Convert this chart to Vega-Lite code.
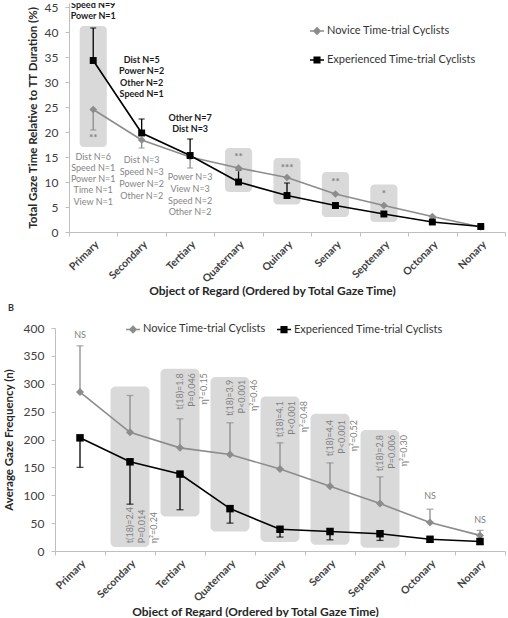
{
  "$schema": "https://vega.github.io/schema/vega-lite/v6.json",
  "background": "white",
  "padding": {"left": 3, "top": 0, "right": 0, "bottom": 0},
  "config": {
    "font": "Lato",
    "view": {"stroke": null},
    "axis": {
      "grid": false,
      "domainColor": "#bfbfbf",
      "tickColor": "#bfbfbf",
      "labelColor": "#404040",
      "titleColor": "#262626",
      "labelFont": "Lato",
      "titleFont": "Lato"
    },
    "axisY": {"labelOverlap": false, "tickCount": 10},
    "legend": {"labelFont": "Lato", "labelColor": "#333333"}
  },
  "datasets": {
    "timeA": [
      {"cat": "Primary", "series": "Novice Time-trial Cyclists", "value": 24.5, "err": 20.4},
      {"cat": "Secondary", "series": "Novice Time-trial Cyclists", "value": 18.4, "err": 16.8},
      {"cat": "Tertiary", "series": "Novice Time-trial Cyclists", "value": 15.0, "err": 12.8},
      {"cat": "Quaternary", "series": "Novice Time-trial Cyclists", "value": 12.8, "err": 12.8},
      {"cat": "Quinary", "series": "Novice Time-trial Cyclists", "value": 10.9, "err": 10.9},
      {"cat": "Senary", "series": "Novice Time-trial Cyclists", "value": 7.6, "err": 7.6},
      {"cat": "Septenary", "series": "Novice Time-trial Cyclists", "value": 5.3, "err": 5.3},
      {"cat": "Octonary", "series": "Novice Time-trial Cyclists", "value": 3.1, "err": 3.1},
      {"cat": "Nonary", "series": "Novice Time-trial Cyclists", "value": 1.0, "err": 1.0},
      {"cat": "Primary", "series": "Experienced Time-trial Cyclists", "value": 34.3, "err": 40.8},
      {"cat": "Secondary", "series": "Experienced Time-trial Cyclists", "value": 19.8, "err": 22.6},
      {"cat": "Tertiary", "series": "Experienced Time-trial Cyclists", "value": 15.3, "err": 18.6},
      {"cat": "Quaternary", "series": "Experienced Time-trial Cyclists", "value": 10.0, "err": 12.4},
      {"cat": "Quinary", "series": "Experienced Time-trial Cyclists", "value": 7.3, "err": 9.8},
      {"cat": "Senary", "series": "Experienced Time-trial Cyclists", "value": 5.3, "err": 5.3},
      {"cat": "Septenary", "series": "Experienced Time-trial Cyclists", "value": 3.6, "err": 3.6},
      {"cat": "Octonary", "series": "Experienced Time-trial Cyclists", "value": 2.0, "err": 2.0},
      {"cat": "Nonary", "series": "Experienced Time-trial Cyclists", "value": 1.1, "err": 1.1}
    ],
    "boxesA": [
      {"cat": "Primary", "top": 41.2, "bottom": 17.0},
      {"cat": "Quaternary", "top": 16.8, "bottom": 8.0},
      {"cat": "Quinary", "top": 14.8, "bottom": 5.5},
      {"cat": "Senary", "top": 12.0, "bottom": 3.0},
      {"cat": "Septenary", "top": 9.5, "bottom": 2.0}
    ],
    "starsA": [
      {"cat": "Primary", "y": 19.2, "text": "**"},
      {"cat": "Quaternary", "y": 15.4, "text": "**"},
      {"cat": "Quinary", "y": 13.2, "text": "***"},
      {"cat": "Senary", "y": 10.4, "text": "**"},
      {"cat": "Septenary", "y": 8.0, "text": "*"}
    ],
    "expertNotesA": [
      {"cat": "Primary", "y": 45.5, "text": "Speed N=9"},
      {"cat": "Primary", "y": 43.2, "text": "Power N=1"},
      {"cat": "Secondary", "y": 34.5, "text": "Dist N=5"},
      {"cat": "Secondary", "y": 32.3, "text": "Power N=2"},
      {"cat": "Secondary", "y": 29.9, "text": "Other N=2"},
      {"cat": "Secondary", "y": 27.7, "text": "Speed N=1"},
      {"cat": "Tertiary", "y": 22.8, "text": "Other N=7"},
      {"cat": "Tertiary", "y": 20.6, "text": "Dist N=3"}
    ],
    "noviceNotesA": [
      {"cat": "Primary", "y": 15.1, "text": "Dist N=6"},
      {"cat": "Primary", "y": 12.9, "text": "Speed N=1"},
      {"cat": "Primary", "y": 10.7, "text": "Power N=1"},
      {"cat": "Primary", "y": 8.4, "text": "Time N=1"},
      {"cat": "Primary", "y": 6.1, "text": "View N=1"},
      {"cat": "Secondary", "y": 14.5, "text": "Dist N=3"},
      {"cat": "Secondary", "y": 12.1, "text": "Speed N=3"},
      {"cat": "Secondary", "y": 9.7, "text": "Power N=2"},
      {"cat": "Secondary", "y": 7.3, "text": "Other N=2"},
      {"cat": "Tertiary", "y": 11.0, "text": "Power N=3"},
      {"cat": "Tertiary", "y": 8.7, "text": "View N=3"},
      {"cat": "Tertiary", "y": 6.3, "text": "Speed N=2"},
      {"cat": "Tertiary", "y": 4.1, "text": "Other N=2"}
    ],
    "freqB": [
      {"cat": "Primary", "series": "Novice Time-trial Cyclists", "value": 285, "err": 368},
      {"cat": "Secondary", "series": "Novice Time-trial Cyclists", "value": 213, "err": 279},
      {"cat": "Tertiary", "series": "Novice Time-trial Cyclists", "value": 185, "err": 237},
      {"cat": "Quaternary", "series": "Novice Time-trial Cyclists", "value": 173, "err": 230},
      {"cat": "Quinary", "series": "Novice Time-trial Cyclists", "value": 147, "err": 194},
      {"cat": "Senary", "series": "Novice Time-trial Cyclists", "value": 116, "err": 158},
      {"cat": "Septenary", "series": "Novice Time-trial Cyclists", "value": 85, "err": 133},
      {"cat": "Octonary", "series": "Novice Time-trial Cyclists", "value": 51, "err": 75},
      {"cat": "Nonary", "series": "Novice Time-trial Cyclists", "value": 28, "err": 37},
      {"cat": "Primary", "series": "Experienced Time-trial Cyclists", "value": 203, "err": 150},
      {"cat": "Secondary", "series": "Experienced Time-trial Cyclists", "value": 160, "err": 84},
      {"cat": "Tertiary", "series": "Experienced Time-trial Cyclists", "value": 138, "err": 74},
      {"cat": "Quaternary", "series": "Experienced Time-trial Cyclists", "value": 76, "err": 50},
      {"cat": "Quinary", "series": "Experienced Time-trial Cyclists", "value": 39, "err": 25},
      {"cat": "Senary", "series": "Experienced Time-trial Cyclists", "value": 35, "err": 20},
      {"cat": "Septenary", "series": "Experienced Time-trial Cyclists", "value": 31, "err": 19},
      {"cat": "Octonary", "series": "Experienced Time-trial Cyclists", "value": 21, "err": 16},
      {"cat": "Nonary", "series": "Experienced Time-trial Cyclists", "value": 17, "err": 12}
    ],
    "boxesB": [
      {"cat": "Secondary", "top": 295, "bottom": 7},
      {"cat": "Tertiary", "top": 327, "bottom": 62},
      {"cat": "Quaternary", "top": 312, "bottom": 35},
      {"cat": "Quinary", "top": 277, "bottom": 16},
      {"cat": "Senary", "top": 246, "bottom": 11},
      {"cat": "Septenary", "top": 217, "bottom": 6}
    ],
    "statsB": [
      {"cat": "Secondary", "y": 14, "text": "t(18)=2.4\nP=0.014\nη²=0.24"},
      {"cat": "Tertiary", "y": 319, "text": "t(18)=1.8\nP=0.046\nη²=0.15"},
      {"cat": "Quaternary", "y": 307, "text": "t(18)=3.9\nP<0.001\nη²=0.46"},
      {"cat": "Quinary", "y": 269, "text": "t(18)=4.1\nP<0.001\nη²=0.48"},
      {"cat": "Senary", "y": 235, "text": "t(18)=4.4\nP<0.001\nη²=0.52"},
      {"cat": "Septenary", "y": 208, "text": "t(18)=2.8\nP=0.006\nη²=0.30"}
    ],
    "nsB": [
      {"cat": "Primary", "y": 388, "text": "NS"},
      {"cat": "Octonary", "y": 99, "text": "NS"},
      {"cat": "Nonary", "y": 56, "text": "NS"}
    ]
  },
  "vconcat": [
    {
      "width": 450,
      "height": 229,
      "layer": [
        {
          "data": {"name": "boxesA"},
          "mark": {"type": "bar", "width": {"band": 0.56}, "cornerRadius": 4, "color": "#d9d9d9"},
          "encoding": {
            "x": {
              "field": "cat", "type": "ordinal",
              "scale": {"domain": ["Primary", "Secondary", "Tertiary", "Quaternary", "Quinary", "Senary", "Septenary", "Octonary", "Nonary"], "rangeMin": 14, "paddingInner": 0, "paddingOuter": 0},
              "axis": {
                "title": "Object of Regard (Ordered by Total Gaze Time)",
                "titleFontSize": 12, "titleFontWeight": "bold", "titleX": 217, "titleY": 53,
                "labelAngle": -45, "labelFontSize": 10.5, "labelFontWeight": "bold",
                "tickBand": "extent", "tickSize": 4, "labelPadding": 3
              }
            },
            "y": {
              "field": "top", "type": "quantitative",
              "scale": {"domain": [0, 45.8], "nice": false},
              "axis": {
                "values": [0, 5, 10, 15, 20, 25, 30, 35, 40, 45],
                "tickCount": 10,
                "labelOverlap": false,
                "title": "Total Gaze Time Relative to TT Duration (%)",
                "titleFontSize": 11.5, "titleFontWeight": "bold", "titlePadding": 6,
                "labelFontSize": 12, "tickSize": 4, "labelPadding": 7, "offset": -14
              }
            },
            "y2": {"field": "bottom"}
          }
        },
        {
          "data": {"name": "timeA"},
          "mark": {"type": "line", "strokeWidth": 1.6},
          "encoding": {
            "x": {"field": "cat", "type": "ordinal"},
            "y": {"field": "value", "type": "quantitative"},
            "color": {
              "field": "series", "type": "nominal",
              "scale": {"domain": ["Novice Time-trial Cyclists", "Experienced Time-trial Cyclists"], "range": ["#8c8c8c", "#000000"]},
              "legend": {
                "title": null, "orient": "none", "legendX": 254, "legendY": 20, "direction": "vertical",
                "rowPadding": 14, "labelFontSize": 11, "labelOffset": 2, "symbolSize": 196,
                "encode": {"symbols": {"update": {
                  "shape": {"signal": "datum.value === 'Novice Time-trial Cyclists' ? 'M-1,0L1,0M0,-0.45L0.45,0L0,0.45L-0.45,0Z' : 'M-1,0L1,0M-0.4,-0.4L0.4,-0.4L0.4,0.4L-0.4,0.4Z'"},
                  "fill": {"signal": "datum.value === 'Novice Time-trial Cyclists' ? '#8c8c8c' : '#000000'"},
                  "stroke": {"signal": "datum.value === 'Novice Time-trial Cyclists' ? '#8c8c8c' : '#000000'"},
                  "strokeWidth": {"value": 1.5},
                  "opacity": {"value": 1}
                }}}
              }
            }
          }
        },
        {
          "data": {"name": "timeA"},
          "mark": {"type": "rule", "strokeWidth": 1.3},
          "encoding": {
            "x": {"field": "cat", "type": "ordinal"},
            "y": {"field": "value", "type": "quantitative"},
            "y2": {"field": "err"},
            "color": {"field": "series", "type": "nominal", "legend": null}
          }
        },
        {
          "data": {"name": "timeA"},
          "mark": {"type": "tick", "size": 6, "thickness": 1.3},
          "encoding": {
            "x": {"field": "cat", "type": "ordinal"},
            "y": {"field": "err", "type": "quantitative"},
            "color": {"field": "series", "type": "nominal", "legend": null}
          }
        },
        {
          "data": {"name": "timeA"},
          "transform": [{"filter": "datum.series === 'Novice Time-trial Cyclists'"}],
          "mark": {"type": "point", "shape": "diamond", "filled": true, "opacity": 1, "size": 60, "color": "#8c8c8c"},
          "encoding": {
            "x": {"field": "cat", "type": "ordinal"},
            "y": {"field": "value", "type": "quantitative"}
          }
        },
        {
          "data": {"name": "timeA"},
          "transform": [{"filter": "datum.series === 'Experienced Time-trial Cyclists'"}],
          "mark": {"type": "point", "shape": "square", "filled": true, "opacity": 1, "size": 48, "color": "#000000"},
          "encoding": {
            "x": {"field": "cat", "type": "ordinal"},
            "y": {"field": "value", "type": "quantitative"}
          }
        },
        {
          "data": {"name": "starsA"},
          "mark": {"type": "text", "fontSize": 10, "fontWeight": "bold", "color": "#7f7f7f", "dy": 2},
          "encoding": {
            "x": {"field": "cat", "type": "ordinal"},
            "y": {"field": "y", "type": "quantitative"},
            "text": {"field": "text"}
          }
        },
        {
          "data": {"name": "expertNotesA"},
          "mark": {"type": "text", "fontSize": 9, "fontWeight": "bold", "color": "#1a1a1a", "clip": true},
          "encoding": {
            "x": {"field": "cat", "type": "ordinal"},
            "y": {"field": "y", "type": "quantitative"},
            "text": {"field": "text"}
          }
        },
        {
          "data": {"name": "noviceNotesA"},
          "mark": {"type": "text", "fontSize": 9, "color": "#858585"},
          "encoding": {
            "x": {"field": "cat", "type": "ordinal"},
            "y": {"field": "y", "type": "quantitative"},
            "text": {"field": "text"}
          }
        }
      ]
    },
    {
      "width": 450,
      "height": 223,
      "title": {"text": "B", "anchor": "start", "frame": "bounds", "fontSize": 9, "fontWeight": "bold", "color": "#333333", "baseline": "alphabetic", "offset": 1, "dx": 5},
      "layer": [
        {
          "data": {"name": "boxesB"},
          "mark": {"type": "bar", "width": {"band": 0.78}, "cornerRadius": 5, "color": "#d9d9d9"},
          "encoding": {
            "x": {
              "field": "cat", "type": "ordinal",
              "scale": {"domain": ["Primary", "Secondary", "Tertiary", "Quaternary", "Quinary", "Senary", "Septenary", "Octonary", "Nonary"], "paddingInner": 0, "paddingOuter": 0},
              "axis": {
                "title": "Object of Regard (Ordered by Total Gaze Time)",
                "titleFontSize": 12, "titleFontWeight": "bold", "titleX": 200, "titleY": 55,
                "labelAngle": -45, "labelFontSize": 10.5, "labelFontWeight": "bold",
                "tickBand": "extent", "tickSize": 4, "labelPadding": 3
              }
            },
            "y": {
              "field": "top", "type": "quantitative",
              "scale": {"domain": [0, 400], "nice": false},
              "axis": {
                "values": [0, 50, 100, 150, 200, 250, 300, 350, 400],
                "tickCount": 10,
                "labelOverlap": false,
                "title": "Average Gaze Frequency (n)",
                "titleFontSize": 11.5, "titleFontWeight": "bold", "titlePadding": 9,
                "labelFontSize": 12, "tickSize": 4, "labelPadding": 7
              }
            },
            "y2": {"field": "bottom"}
          }
        },
        {
          "data": {"name": "freqB"},
          "mark": {"type": "line", "strokeWidth": 1.6},
          "encoding": {
            "x": {"field": "cat", "type": "ordinal"},
            "y": {"field": "value", "type": "quantitative"},
            "color": {
              "field": "series", "type": "nominal",
              "scale": {"domain": ["Novice Time-trial Cyclists", "Experienced Time-trial Cyclists"], "range": ["#8c8c8c", "#000000"]},
              "legend": {
                "title": null, "orient": "none", "legendX": 70, "legendY": -7, "direction": "horizontal",
                "columnPadding": 8, "labelFontSize": 11, "labelOffset": 2, "symbolSize": 196,
                "encode": {"symbols": {"update": {
                  "shape": {"signal": "datum.value === 'Novice Time-trial Cyclists' ? 'M-1,0L1,0M0,-0.45L0.45,0L0,0.45L-0.45,0Z' : 'M-1,0L1,0M-0.4,-0.4L0.4,-0.4L0.4,0.4L-0.4,0.4Z'"},
                  "fill": {"signal": "datum.value === 'Novice Time-trial Cyclists' ? '#8c8c8c' : '#000000'"},
                  "stroke": {"signal": "datum.value === 'Novice Time-trial Cyclists' ? '#8c8c8c' : '#000000'"},
                  "strokeWidth": {"value": 1.5},
                  "opacity": {"value": 1}
                }}}
              }
            }
          }
        },
        {
          "data": {"name": "freqB"},
          "mark": {"type": "rule", "strokeWidth": 1.3},
          "encoding": {
            "x": {"field": "cat", "type": "ordinal"},
            "y": {"field": "value", "type": "quantitative"},
            "y2": {"field": "err"},
            "color": {"field": "series", "type": "nominal", "legend": null}
          }
        },
        {
          "data": {"name": "freqB"},
          "mark": {"type": "tick", "size": 7, "thickness": 1.3},
          "encoding": {
            "x": {"field": "cat", "type": "ordinal"},
            "y": {"field": "err", "type": "quantitative"},
            "color": {"field": "series", "type": "nominal", "legend": null}
          }
        },
        {
          "data": {"name": "freqB"},
          "transform": [{"filter": "datum.series === 'Novice Time-trial Cyclists'"}],
          "mark": {"type": "point", "shape": "diamond", "filled": true, "opacity": 1, "size": 64, "color": "#8c8c8c"},
          "encoding": {
            "x": {"field": "cat", "type": "ordinal"},
            "y": {"field": "value", "type": "quantitative"}
          }
        },
        {
          "data": {"name": "freqB"},
          "transform": [{"filter": "datum.series === 'Experienced Time-trial Cyclists'"}],
          "mark": {"type": "point", "shape": "square", "filled": true, "opacity": 1, "size": 56, "color": "#000000"},
          "encoding": {
            "x": {"field": "cat", "type": "ordinal"},
            "y": {"field": "value", "type": "quantitative"}
          }
        },
        {
          "data": {"name": "statsB"},
          "transform": [{"filter": "datum.cat !== 'Secondary'"}],
          "mark": {"type": "text", "fontSize": 9, "color": "#7f7f7f", "angle": 270, "align": "right", "baseline": "middle", "lineBreak": "\n", "lineHeight": 12},
          "encoding": {
            "x": {"field": "cat", "type": "ordinal"},
            "y": {"field": "y", "type": "quantitative"},
            "text": {"field": "text"}
          }
        },
        {
          "data": {"name": "statsB"},
          "transform": [{"filter": "datum.cat === 'Secondary'"}],
          "mark": {"type": "text", "fontSize": 9, "color": "#7f7f7f", "angle": 270, "align": "left", "baseline": "middle", "lineBreak": "\n", "lineHeight": 12},
          "encoding": {
            "x": {"field": "cat", "type": "ordinal"},
            "y": {"field": "y", "type": "quantitative"},
            "text": {"field": "text"}
          }
        },
        {
          "data": {"name": "nsB"},
          "mark": {"type": "text", "fontSize": 9, "color": "#7f7f7f"},
          "encoding": {
            "x": {"field": "cat", "type": "ordinal"},
            "y": {"field": "y", "type": "quantitative"},
            "text": {"field": "text"}
          }
        }
      ]
    }
  ],
  "spacing": 96,
  "bounds": "flush",
  "resolve": {"scale": {"x": "independent", "y": "independent", "color": "independent"}, "legend": {"color": "independent"}}
}
